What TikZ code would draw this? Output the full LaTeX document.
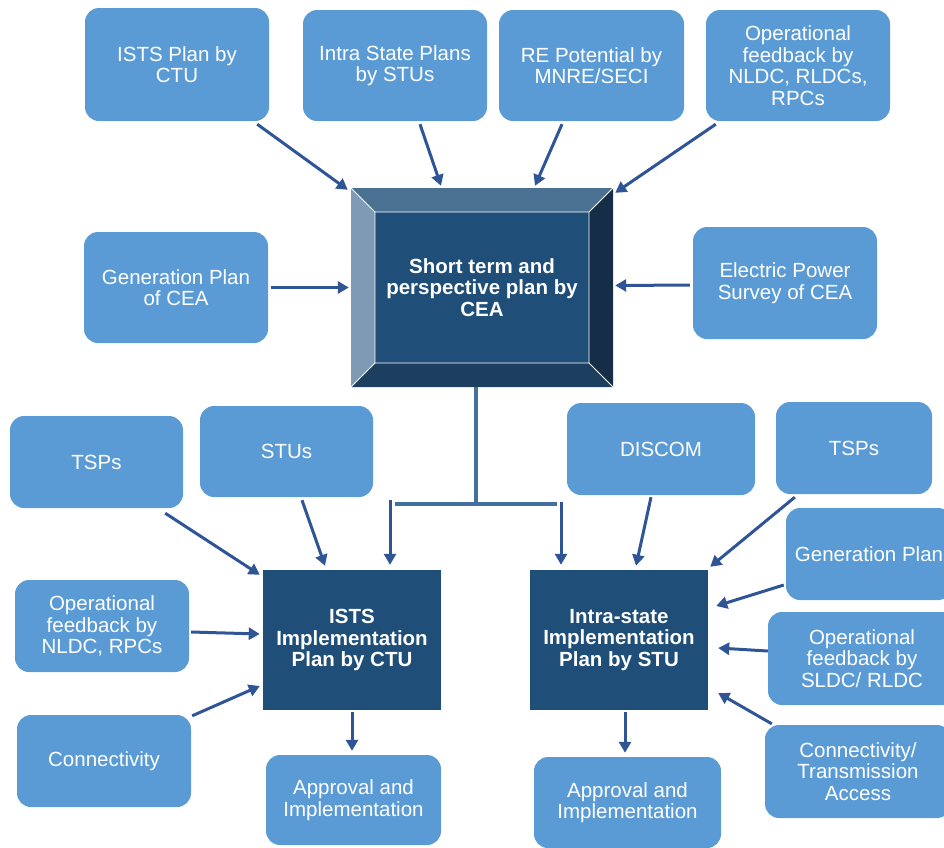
\documentclass[tikz,border=0pt]{standalone}
\usepackage{fontspec}
\setmainfont{Liberation Sans}
\usetikzlibrary{arrows.meta,calc}
\definecolor{lblue}{HTML}{5B9BD5}
\definecolor{dblue}{HTML}{1F4E79}
\definecolor{arrc}{HTML}{2F5597}
\definecolor{stemc}{HTML}{41719C}
\definecolor{bvtop}{HTML}{4B7192}
\definecolor{bvleft}{HTML}{7F9AB4}
\definecolor{bvright}{HTML}{152D47}
\definecolor{bvbot}{HTML}{1C3E5F}
\tikzset{
  lbox/.style={rounded corners=14pt, fill=lblue, text=white, align=center, inner sep=0pt,
    font=\fontsize{20.5}{21.5}\selectfont},
  dbox/.style={fill=dblue, text=white, align=center, inner sep=0pt,
    font=\bfseries\fontsize{20.5}{21.5}\selectfont},
  arr/.style={draw=arrc, line width=3pt, -{Triangle[length=11pt,width=12pt]}},
  stemline/.style={draw=stemc, line width=4pt},
}
\begin{document}
\begin{tikzpicture}[x=1pt,y=-1pt]
\useasboundingbox (0,0) rectangle (944,847);

% top row
\node[lbox, minimum width=184pt, minimum height=113pt] (ists) at (177,64.5) {ISTS Plan by\\CTU};
\node[lbox, minimum width=184pt, minimum height=111pt] (intra) at (395,65.5) {Intra State Plans\\by STUs};
\node[lbox, minimum width=185pt, minimum height=111pt] (re) at (591.5,65.5) {RE Potential by\\MNRE/SECI};
\node[lbox, minimum width=184pt, minimum height=111pt] (opf) at (798,65.5) {Operational\\feedback by\\NLDC, RLDCs,\\RPCs};
\node[lbox, minimum width=184pt, minimum height=111pt] (gen) at (176,287.5) {Generation Plan\\of CEA};
\node[lbox, minimum width=184pt, minimum height=112pt] (eps) at (785,283) {Electric Power\\Survey of CEA};

% central bevel box
\node[minimum width=262pt, minimum height=199pt, inner sep=0pt] (cea) at (482,287.5) {};
\coordinate (o1) at (351,188); \coordinate (o2) at (613,188);
\coordinate (o3) at (613,387); \coordinate (o4) at (351,387);
\coordinate (i1) at (375,212); \coordinate (i2) at (589,212);
\coordinate (i3) at (589,363); \coordinate (i4) at (375,363);
\fill[bvtop] (o1) -- (o2) -- (i2) -- (i1) -- cycle;
\fill[bvleft] (o1) -- (i1) -- (i4) -- (o4) -- cycle;
\fill[bvright] (o2) -- (o3) -- (i3) -- (i2) -- cycle;
\fill[bvbot] (o4) -- (o3) -- (i3) -- (i4) -- cycle;
\fill[dblue] (i1) rectangle (i3);
\draw[white, line width=0.8pt] (i1) rectangle (i3) (o1) -- (i1) (o2) -- (i2) (o3) -- (i3) (o4) -- (i4);
\node[text=white, align=center, font=\bfseries\fontsize{20.5}{21.5}\selectfont] (ceatext) at (482,287.5) {Short term and\\perspective plan by\\CEA};

% middle row
\node[lbox, minimum width=173pt, minimum height=92pt] (tspL) at (96.5,462) {TSPs};
\node[lbox, minimum width=173pt, minimum height=91pt] (stuL) at (286.5,451.5) {STUs};
\node[lbox, minimum width=188pt, minimum height=92pt] (discom) at (661,449) {DISCOM};
\node[lbox, minimum width=156pt, minimum height=92pt] (tspR) at (854,448) {TSPs};
\node[lbox, minimum width=166pt, minimum height=92pt] (genR) at (869,554) {Generation Plan};
\node[lbox, minimum width=188pt, minimum height=93pt] (sldc) at (862,658.5) {Operational\\feedback by\\SLDC/ RLDC};
\node[lbox, minimum width=186pt, minimum height=93pt] (conR) at (858,771.5) {Connectivity/\\Transmission\\Access};
\node[lbox, minimum width=174pt, minimum height=92pt] (opL) at (102,626) {Operational\\feedback by\\NLDC, RPCs};
\node[lbox, minimum width=174pt, minimum height=92pt] (conL) at (104,761) {Connectivity};

% implementation boxes
\node[dbox, minimum width=178pt, minimum height=140pt] (istsimpl) at (352,640) {ISTS\\Implementation\\Plan by CTU};
\node[dbox, minimum width=178pt, minimum height=140pt] (intraimpl) at (619,640) {Intra-state\\Implementation\\Plan by STU};
\node[lbox, minimum width=175pt, minimum height=90pt] (apprL) at (353.5,800) {Approval and\\Implementation};
\node[lbox, minimum width=187pt, minimum height=91pt] (apprR) at (627.5,802.5) {Approval and\\Implementation};

% arrows into CEA
\draw[arr] ([shift={(-12,3)}]ists.south east) -- ([shift={(-3,2)}]cea.north west);
\draw[arr] ([shift={(25,3)}]intra.south) -- ([shift={(-41,-2)}]cea.north);
\draw[arr] ([shift={(-29.5,3)}]re.south) -- ([shift={(53,-2)}]cea.north);
\draw[arr] ([shift={(10,3)}]opf.south west) -- ([shift={(2,5)}]cea.north east);
\draw[arr] ([shift={(3,0)}]gen.east) -- ([shift={(-2,0)}]cea.west);
\draw[arr] ([shift={(-3,2)}]eps.west) -- ([shift={(2,-2)}]cea.east);

% tree
\coordinate (junc) at ([shift={(-6,117)}]cea.south);
\draw[stemline] ([xshift=-6]cea.south) -- (junc);
\draw[stemline] ([xshift=-81]junc) -- ([xshift=81]junc);
\draw[arr] ([shift={(38,-70)}]istsimpl.north) -- ([shift={(38,-5)}]istsimpl.north);
\draw[arr] ([shift={(-58,-68)}]intraimpl.north) -- ([shift={(-58,-5)}]intraimpl.north);

% arrows into ISTS implementation
\draw[arr] ([shift={(-18,5)}]tspL.south east) -- ([shift={(-3,5)}]istsimpl.north west);
\draw[arr] ([shift={(15.5,3)}]stuL.south) -- ([shift={(-27,-4)}]istsimpl.north);
\draw[arr] ([shift={(2,6)}]opL.east) -- ([shift={(-3,-6)}]istsimpl.west);
\draw[arr] ([shift={(1,1)}]conL.north east) -- ([shift={(-3,46)}]istsimpl.west);
\draw[arr] ([shift={(0,2)}]istsimpl.south) -- ([shift={(-1.5,-4)}]apprL.north);

% arrows into Intra-state implementation
\draw[arr] ([shift={(-10,2)}]discom.south) -- ([shift={(17,-4)}]intraimpl.north);
\draw[arr] ([shift={(19,3)}]tspR.south west) -- ([shift={(2,-3)}]intraimpl.north east);
\draw[arr] ([shift={(-2,31)}]genR.west) -- ([shift={(8,-34)}]intraimpl.east);
\draw[arr] ([shift={(0,-7.5)}]sldc.west) -- ([shift={(10,8)}]intraimpl.east);
\draw[arr] ([shift={(7,-1)}]conR.north west) -- ([shift={(10,53)}]intraimpl.east);
\draw[arr] ([shift={(6,2)}]intraimpl.south) -- ([shift={(-2.5,-4)}]apprR.north);
\end{tikzpicture}
\end{document}
